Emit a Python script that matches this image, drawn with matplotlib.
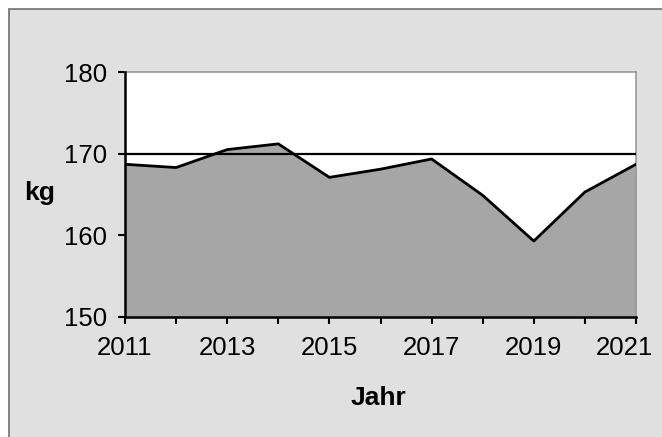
import matplotlib
import matplotlib.pyplot as plt
import matplotlib.transforms as mtransforms
from matplotlib.patches import Rectangle

matplotlib.use("Agg")

years = [2011, 2012, 2013, 2014, 2015, 2016, 2017, 2018, 2019, 2020, 2021]
kg = [168.7, 168.3, 170.5, 171.2, 167.1, 168.1, 169.35, 164.9, 159.3, 165.3, 168.7]
y_ticks = [150, 160, 170, 180]
x_ticks = [2011, 2013, 2015, 2017, 2019, 2021]

plt.rcParams["font.family"] = ["Liberation Sans", "DejaVu Sans"]

fig = plt.figure(figsize=(6.62, 4.37), dpi=100)
fig.patch.set_facecolor("white")
# outer chart frame
fig.patches.append(Rectangle((9 / 662, -0.01), 1.0, (437 - 9) / 437 + 0.01,
                             transform=fig.transFigure, facecolor="#e0e0e0",
                             edgecolor="#707070", linewidth=1.2, zorder=-1))

ax = fig.add_axes([125 / 662, 1 - 317 / 437, (636 - 125) / 662, (317 - 72) / 437])
ax.set_facecolor("white")
ax.fill_between(years, kg, 150, color="#a6a6a6", linewidth=0, zorder=2)
ax.plot(years, kg, color="black", linewidth=2, zorder=3)
ax.axhline(170, color="black", linewidth=1.6, zorder=4)

ax.set_xlim(2011, 2021)
ax.set_ylim(150, 180)
ax.set_xticks(years)
ax.set_xticklabels([str(y) if y in x_ticks else "" for y in years])
ax.set_yticks(y_ticks)

for side in ("top", "right"):
    ax.spines[side].set_color("#999999")
    ax.spines[side].set_linewidth(1.2)
for side in ("left", "bottom"):
    ax.spines[side].set_color("black")
    ax.spines[side].set_linewidth(1.8)
    ax.spines[side].set_zorder(5)

ax.tick_params(axis="both", direction="out", length=5, width=1.5,
               labelsize=18.5, color="black")
ax.tick_params(axis="x", pad=9)
ax.tick_params(axis="y", pad=8)

# last year label is pulled inside the frame, as in the original
last = ax.get_xticklabels()[-1]
last.set_transform(last.get_transform() +
                   mtransforms.ScaledTranslation(-12 / 100, 0, fig.dpi_scale_trans))

fig.text(40 / 662, 1 - 193 / 437, "kg", fontsize=19, fontweight="bold",
         ha="center", va="center")
fig.text(378 / 662, 1 - 398 / 437, "Jahr", fontsize=19, fontweight="bold",
         ha="center", va="center")

fig.savefig("out.png", dpi=100)
